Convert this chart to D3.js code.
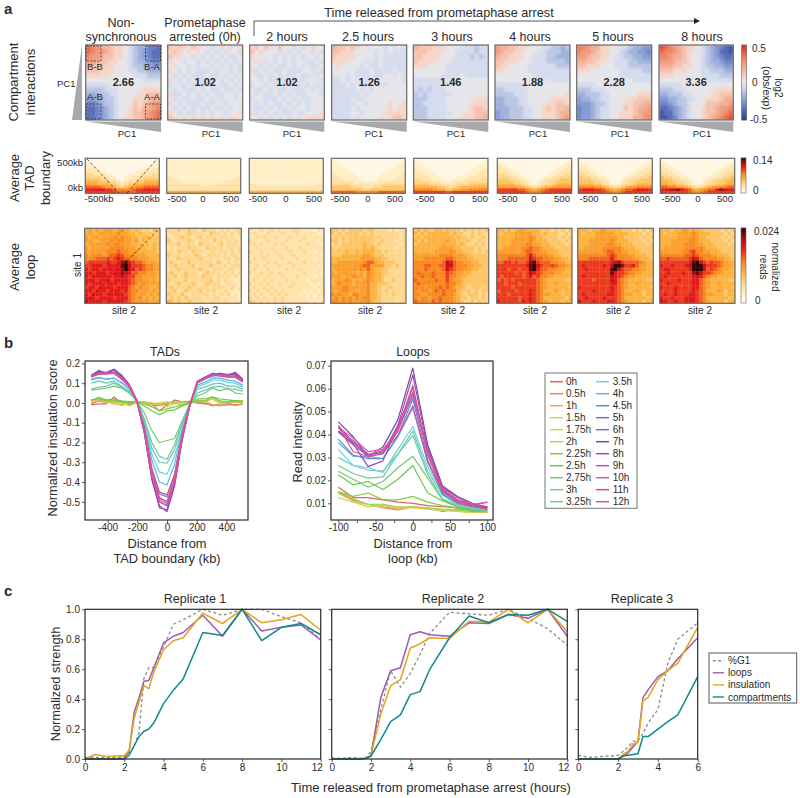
<!DOCTYPE html>
<html><head><meta charset="utf-8">
<script src="https://cdnjs.cloudflare.com/ajax/libs/d3/7.8.5/d3.min.js"></script>
<style>html,body{margin:0;background:#fff}svg{display:block}text{font-family:"Liberation Sans",Arial,sans-serif;fill:#2b2b2b}</style>
</head><body><div id="c"></div>
<script>
// ---------- panel a : headers and scores
const panelTitles=[["Non-","synchronous"],["Prometaphase","arrested (0h)"],["2 hours"],["2.5 hours"],["3 hours"],["4 hours"],["5 hours"],["8 hours"]];
const scores=["2.66","1.02","1.02","1.26","1.46","1.88","2.28","3.36"];

// compartment saddle cells, hex code: 0 = -0.5, 8 = 0, g = +0.5
const comp_ns=["edcbba9987655332","edccba9987654322","dccbaa9987654322","ccbaa99887655433","bbaa998887665544","aaa9998887766555","9999988888777666","8888888888887777","7777788888888888","6666777888889999","5556677888899aaa","4455667888999abb","3345667888a9abcc","2234567889a9bbcd","2234567889aabcde","2234567899aabcde"];
const comp_0h=["a9a98a9887898989","9a98989878787887","a998878787878778","9887887878787878","8988787887878787","9878787778788787","8787877787787878","9878787787878787","7887878777877878","8787778787787787","9778787878778878","8787787787878878","9878777877887888","8787878778778788","9878778787887889","a989898989898998"];
const comp_2h=["9a8a98a887878988","a898887878788787","9888878787878878","8987878787887787","8878787787878778","9787877877788787","8778787877877878","8878778787878887","7887878778787878","8778787787778787","8787787878778887","7887778787877888","8787877878787888","8778787787887888","9787878778778889","8898787878989999"];
const comp_25h=["baa9a98988878787","aa99988887878777","a999988887877777","9998888787877777","8988887877877777","8888877787777877","8887877787788787","7787878787888887","7778787788778888","7777787878888888","7777778788888888","7777877888888888","7777788788889889","7777878888889899","7777887888899999","7777878888989aa9"];
const comp_3h=["baaa999888777677","aaa9998887777677","aa99998887776767","a999988877777777","9998888777777777","8888888777777777","8888887777877777","7777777878888888","7777778788888888","7676777888888888","6767777788888888","6667777888888999","6677777888889999","6667777888889aa9","6667777788899aaa","6667777888999aab"];
const comp_4h=["cbbaa99888776656","cbaa998887766655","baa9998877766555","aa99988877766665","a998888777777666","9988888777777777","8888888877777777","8888888888787777","7777778888888888","6677777888888888","6666777888888889","5566677888889999","5566677888899aa9","55566677889a9aab","4556667788999abb","4556667788999abc"];
const comp_5h=["ddcbb99887765544","dccba99887655443","ccbaa99877665544","bbaa998877766555","aa99988877766666","9998888887777766","8888888887777777","8888888888887777","7777888888888888","6667778888888888","5566677888888999","4556677888899aaa","444566788899aabb","3445677888a9abbc","344567788999abcc","344567788999bbcd"];
const comp_8h=["fedcba9987654321","eddcba9887654221","ddcbba9887654322","cccbaa9887655433","bbbaa99887665544","aaa9998887766655","9998888887777666","8888888888777777","7777788888888888","6667778888889999","5566677888899aaa","4455667788999abb","3345667888aaabbc","2234567889aabccd","1224567889aabcde","1123567889abcdef"];
const compPanels=[comp_ns,comp_0h,comp_2h,comp_25h,comp_3h,comp_4h,comp_5h,comp_8h];

// average TAD boundary cells, hex code 0..f of the 0-0.14 colour range
const tad_ns=["1111111111111111111","2111111111111111112","2211111111111111122","2221111111111111222","3322111111111122233","3332211111111223333","4433322111122233344","4444332211223334444","5555443321233445555","6665554432344556666","7776665543455667777","9999877654567889999","bbbbbaa988889aabbbb","aaaaaaaa99999aaaaaa"];
const tad_0h=["2222222222222222222","2222222222222222222","2222222222222222222","2222222222222222222","2222222222222222222","2222222222222222222","2222222222222222222","3222222222222222223","3322222222222222233","3333222222222223333","3333333332233333333","3333333333333333333","3333333333333333333","6666666666666666666"];
const tad_2h=["2222222222222222222","2222222222222222222","2222222222222222222","2222222222222222222","2222222222222222222","2222222222222222222","2222222222222222222","2222222222222222222","2222222222222222222","2222222222222222222","3322222222222222233","3333333333333333333","3333333333333333333","6666666666666666666"];
const tad_25h=["1111111111111111111","2111111111111111112","2211111111111111122","2221111111111111222","2222111111111112222","2222211111111122222","3222221111111222223","3322222111112222233","3332222211122222333","3333332222223333333","4444433333333444444","5555544433344555555","5555555544555555555","9999998888889999999"];
const tad_3h=["1111111111111111111","2111111111111111112","2211111111111111122","2221111111111111222","3222111111111112223","3322211111111122233","3332221111111222333","3333222111122233333","4433322211222333344","4444333222333344444","5555444333344455555","6666665543456666666","8888876655667788888","aaaaaaaa99aaaaaaaaa"];
const tad_4h=["1111111111111111111","2111111111111111112","2211111111111111122","3221111111111111223","3322111111111112233","3332211111111122333","4433221111111223344","4443322111112233444","5554433211123344555","5555443321233445555","6666554322234456666","7777766543456677777","aaaaa99876789aaaaaa","aaaaaaa98889aaaaaaa"];
const tad_5h=["1111111111111111111","2111111111111111112","2211111111111111122","3221111111111111223","3322111111111112233","4332211111111122334","4433221111111223344","5443322111112233445","5554433211123344555","5555443311133445555","6666554322234456666","8888776543456778888","abbbaa98767899abbba","aaaaaaa98789aaaaaaa"];
const tad_8h=["1111111111111111111","2111111111111111112","2211111111111111122","3221111111111111223","3322111111111112233","4332211111111122334","4433221111111223344","5443322111112233445","6554433211123344556","6655443311133445566","7766554322234455667","9988776543456778899","bbccdba9767899bdcbb","aaaaaaa98789aaaaaaa"];
const tadPanels=[tad_ns,tad_0h,tad_2h,tad_25h,tad_3h,tad_4h,tad_5h,tad_8h];

// average loop cells, hex code 0..f of the 0-0.024 colour range
const loop_ns=["676767776786656545465","676677777877665655545","767767778787766566555","776677787887767565555","677777878877766656565","767777788887776665565","777777888988777666665","878887899a98887776666","888999a9aba9888777666","9aaaaabaabdeba9987776","aabbbabbbbefcaaa98877","babbabbbbbdfcb9a98877","bbabbbabbbdcb99887776","babbbbbabbcbaa8877776","bbbabbbabbbba98877676","babbbabbbabba98787777","abbabbbbabbb987877667","bbabbbabbbab988777676","babbbabbbbba987776767","bbbabbbbabbb987867676","cbbbbabbbbba987777667"];
const loop_0h=["444544544354443434344","344434544443544343434","434454434534443443433","543444543444354434343","444534443544434534443","343444544435444434434","443544354443443443434","544434445434444343443","434544444543434344344","454344544444435434343","445444453444544343444","344544444544344434433","454445444345444343434","445345444454434434343","544445344444534343323","434544454345444334332","454444544444344433433","445345444534443343323","544454344444343434232","454545444434344333332","654544544443444343333"];
const loop_2h=["333433434333443333233","343334333433343333322","334343343334333433333","433334333343334333323","343433343433333343332","334333433343334333333","433433343334333433233","333434334333433333332","343343333433343333233","433334343334333433333","334343334333433333323","343334333343334333233","433433434333333433332","334334333433343333233","343343433343333323333","433434334333433332323","343343433334333333233","434334343433333232323","343433434343332323233","434343343433333323232","543434343433333332323"];
const loop_25h=["554545555455444434344","545455554545444444434","454545555555454444434","554545555555445444344","454555555655454444434","545555555656544444344","555565565666554544444","555666666776555444444","666666667777665544444","667777777899766555444","777777778997777554544","677777778797665544444","767777767687665544444","777677877687665444444","677787676787665445444","678777677786655544444","777887777786654454444","767887767786654544444","878776887786654445444","787878787886654444444","887878777786554444344"];
const loop_3h=["565655665655545454545","656566666656554454544","565666666665655454454","656566666766555544544","566666667666565445454","666666677776655554544","666666777787665554545","777777788887776655555","777888888998777665555","888888889cb9887766555","888998899cc9888776655","888988889ca9887766555","898889888a98776655555","889889888a88766555555","988888988a87765555555","898888888988765555555","888788898987665455545","878878989888655545455","887788889887654555454","878878898887655455454","988879898887654454544"];
const loop_4h=["665656776666555454545","656667777766565554454","666667777876655554545","666677777876665555454","666677778877666555545","667777788988766655555","777777789988776665555","888888889b98887766555","888999999ca9988877665","99aa9a99adea999887766","aaaaaaaabefca99a98877","aaa9aa9aaefb998887766","aaaaa9a9acba988877666","a9aaaaa9ab9a887766666","9a9a9aaaaaa9876666655","aa9aaa9aaaa9876676666","aaaa9aaaaaa9876666665","9aaaa9aaaba9866676566","aaa9aaaaaba9877666566","aaaaaa9aaba9866666656","baaaaa9baba9876666566"];
const loop_5h=["666566776666555454545","656667777766665555454","666667777776655554545","666777777876665555454","666777778877666555545","667777788888766655555","777777789988776665555","888888889a98887766655","888999999b98888776665","aaaaaaaaabcda99998766","abaaaaabacffdaab97766","aabaaaaaaefca99887766","aaaaaaaaaebaa98877666","abaaaaaaacba987766666","aaaa9aaaacb9876666655","aaaaaaaaabb9876676666","baaaaaaaaba9876666665","aaaabaaaaba9866676566","abaaaaaabba9877666566","aabaaaabaaa9866666656","caaabaaabba9876666566"];
const loop_8h=["666566776766555554545","656667777876665555454","666667777876655554545","666777778876665555454","666777788877666555545","677777788888766655555","777777889a88776665555","888888899a98887766655","99a99999acb9888877665","aaaaaaaabefca9a998766","baabaaabcfffcaaa98776","abbaaaaabfffc9a987766","aabaaabaadecaa9877666","abaaaaaaabcb987766666","baaaabaaabb9876666655","aabaaaaaabb9876676666","baaabaaaabb9876666665","aaaabaaaaba9866676566","abaabaaabba9877666566","baabaaabbba9866666656","cbaabaabbba9876666566"];
const loopPanels=[loop_ns,loop_0h,loop_2h,loop_25h,loop_3h,loop_4h,loop_5h,loop_8h];

// ---------- panel b
const timeLabels=["0h","0.5h","1h","1.5h","1.75h","2h","2.25h","2.5h","2.75h","3h","3.25h","3.5h","4h","4.5h","5h","6h","7h","8h","9h","10h","11h","12h"];
const timeColors=["#e2645a","#e8835a","#e5a65c","#dccb5c","#c8d858","#a4d65a","#80cf3c","#6cc848","#72c87a","#6ecb9c","#66c8b8","#6cd3de","#5ab4e8","#5a8fd8","#6a78c8","#7a70c0","#7a4aa8","#9a4ac0","#b854b8","#d45ab0","#dc4a90","#e8507a"];
const tadX=[-510,-459,-408,-357,-306,-255,-204,-153,-102,-51,0,51,102,153,204,255,306,357,408,459,510];
const tadLines=[
[-.01,-.005,-.005,.03,0,-.005,0,.005,-.005,-.04,-.01,.015,.005,.008,0,-.005,-.01,-.012,-.01,-.01,-.008],
[-.005,.01,0,.015,.005,-.01,.005,0,-.01,-.015,-.005,.005,0,.005,0,0,-.015,-.005,0,-.012,-.005],
[0,.015,.005,-.005,-.01,.005,0,.005,0,-.01,0,-.005,.005,0,.005,.01,-.01,-.015,0,.005,0],
[.01,.02,0,.01,-.015,0,.005,0,-.005,0,.005,0,-.01,-.005,.01,.005,.02,-.005,.005,0,.01],
[.005,.02,.015,0,.005,-.015,0,.005,-.005,-.01,-.02,-.005,.005,0,.01,.005,.025,0,.005,.01,.005],
[.01,.03,.015,.005,0,.005,.005,0,-.005,-.005,0,.005,0,0,.01,.01,.03,.005,0,.01,.005],
[.015,.02,.01,.01,.005,0,.01,-.005,-.02,-.04,-.03,-.02,-.01,0,.01,.01,.03,.01,.005,.01,.005],
[.015,.025,.015,.02,.01,.005,.005,-.015,-.04,-.06,-.04,-.035,-.015,0,.02,.02,.03,.02,.015,.01,.01],
[.065,.07,.075,.085,.075,.05,.01,-.05,-.14,-.2,-.19,-.18,-.09,-.005,.035,.05,.075,.06,.075,.05,.045],
[.07,.08,.085,.1,.08,.055,.012,-.08,-.2,-.27,-.285,-.21,-.1,-.005,.05,.065,.08,.085,.07,.07,.06],
[.1,.11,.1,.11,.085,.06,.01,-.09,-.23,-.3,-.305,-.235,-.11,-.005,.07,.08,.095,.1,.085,.085,.07],
[.115,.125,.12,.125,.1,.07,.015,-.1,-.26,-.35,-.36,-.27,-.13,-.01,.08,.095,.115,.115,.105,.1,.08],
[.12,.13,.12,.125,.105,.075,.015,-.11,-.29,-.4,-.415,-.31,-.14,-.01,.09,.105,.125,.125,.115,.11,.09],
[.135,.15,.15,.15,.125,.085,.015,-.13,-.34,-.46,-.475,-.36,-.16,-.01,.1,.12,.135,.14,.13,.13,.105],
[.14,.16,.15,.165,.135,.09,.015,-.13,-.36,-.48,-.5,-.38,-.17,-.01,.105,.13,.14,.15,.14,.145,.115],
[.14,.165,.15,.17,.14,.095,.015,-.14,-.37,-.5,-.52,-.4,-.18,-.015,.11,.13,.145,.15,.145,.15,.115],
[.135,.16,.15,.165,.135,.09,.01,-.15,-.38,-.53,-.54,-.41,-.18,-.015,.105,.13,.145,.15,.14,.15,.12],
[.14,.155,.155,.17,.14,.09,.01,-.15,-.39,-.52,-.55,-.42,-.19,-.015,.11,.13,.15,.145,.14,.155,.12],
[.14,.15,.15,.155,.13,.09,.01,-.14,-.37,-.5,-.52,-.4,-.18,-.01,.105,.125,.145,.145,.14,.14,.115],
[.135,.145,.15,.15,.125,.085,.01,-.14,-.36,-.49,-.51,-.39,-.17,-.01,.105,.125,.14,.14,.135,.135,.11],
[.13,.145,.145,.15,.12,.085,.01,-.125,-.33,-.45,-.465,-.36,-.16,-.005,.105,.125,.14,.135,.13,.13,.11],
[.135,.15,.15,.15,.125,.085,.01,-.135,-.35,-.48,-.5,-.38,-.17,-.01,.105,.125,.14,.14,.135,.135,.11]];
const loopX=[-100,-80,-60,-40,-20,0,20,40,60,80,100];
const loopLines=[
[.017,.0125,.0125,.0115,.0105,.01,.009,.0085,.008,.0075,.007],
[.015,.0115,.0095,.0085,.0075,.0085,.008,.0065,.0075,.007,.0065],
[.015,.012,.0095,.008,.007,.0085,.0075,.007,.007,.0065,.006],
[.0145,.011,.0085,.009,.008,.008,.0075,.007,.0065,.006,.006],
[.0125,.0105,.0085,.0095,.008,.0085,.0075,.007,.0065,.006,.006],
[.0145,.011,.0095,.0095,.0085,.0085,.008,.0075,.007,.0065,.006],
[.015,.013,.0145,.0115,.0115,.013,.0105,.009,.008,.0065,.0065],
[.0225,.018,.0195,.016,.0205,.0265,.0145,.011,.0085,.0065,.007],
[.024,.0205,.017,.0195,.0255,.0305,.021,.0115,.0085,.007,.007],
[.0265,.023,.021,.0215,.0315,.0395,.0225,.012,.009,.0075,.0075],
[.03,.0265,.0245,.024,.0315,.0415,.024,.0135,.0095,.0075,.007],
[.0335,.0265,.0255,.0235,.0335,.0435,.026,.014,.01,.008,.0075],
[.0365,.0305,.0305,.0295,.039,.0515,.028,.0145,.011,.009,.0085],
[.038,.031,.0295,.0295,.0395,.0555,.029,.014,.01,.0085,.008],
[.041,.0355,.0305,.0315,.0415,.057,.032,.015,.011,.009,.0085],
[.043,.0365,.0315,.032,.044,.058,.0335,.0165,.0115,.009,.0085],
[.0455,.039,.0305,.0345,.0465,.069,.0355,.0175,.013,.01,.008],
[.0415,.036,.026,.0285,.044,.066,.034,.017,.0125,.0095,.0085],
[.044,.0365,.031,.033,.0425,.0605,.0315,.016,.0115,.009,.0105],
[.043,.0385,.0325,.0335,.0415,.0585,.0315,.0155,.011,.0095,.0105],
[.0415,.0375,.03,.0325,.0395,.0525,.028,.0155,.0105,.0085,.0075],
[.0435,.0325,.0305,.032,.0425,.0615,.031,.016,.0115,.0095,.0085]];

// ---------- panel c
const metricNames=["%G1","loops","insulation","compartments"];
const metricColors=["#8c8c8c","#a05ab5","#e5a31e","#0f8a8a"];
const rep1T=[0,.5,1,1.5,1.75,2,2.25,2.5,2.75,3,3.25,3.5,4,4.5,5,6,7,8,9,10,11,12];
const rep1G=[.01,.01,.01,.01,.01,.02,.04,.08,.18,.54,.61,.61,.75,.9,.93,1,.96,1,1,.95,.91,.8];
const rep1L=[0,0,0,0,0,.005,.05,.31,.41,.52,.525,.61,.775,.82,.845,.96,.82,1,.855,.88,.895,.795];
const rep1I=[0,.03,.02,.018,.022,.02,.06,.27,.38,.49,.47,.58,.73,.79,.81,.975,.905,1,.91,.93,.965,.86];
const rep1C=[0,0,0,0,0,0,.025,.09,.15,.185,.2,.24,.37,.46,.535,.845,.825,1,.79,.88,.905,.83];
const rep2T=[0,.5,1,1.5,1.75,2,2.5,3,3.5,4,4.5,5,6,7,8,9,10,11,12];
const rep2G=[.005,.005,.01,.005,.01,.05,.33,.59,.48,.57,.7,.84,.98,.97,.96,1,.94,.87,.76];
const rep2L=[0,0,0,0,.005,.02,.41,.59,.61,.83,.85,.83,.82,.91,.905,.965,.94,1,.82];
const rep2I=[0,0,0,0,.005,.025,.3,.49,.53,.74,.77,.81,.805,.92,.915,1,.91,1,.85];
const rep2C=[0,0,0,0,.005,.02,.13,.25,.295,.43,.45,.6,.81,.955,.91,.965,.96,1,.92];
const rep3T=[0,.5,1,1.5,1.75,2,2.25,2.5,2.75,3,3.25,3.5,4,4.5,5,6];
const rep3G=[.025,.01,.015,.02,.02,.025,.05,.08,.12,.12,.17,.24,.33,.64,.8,.91];
const rep3L=[0,0,0,0,0,0,.02,.04,.08,.12,.41,.46,.55,.59,.67,.81];
const rep3I=[0,0,0,0,0,0,.03,.05,.1,.11,.39,.41,.53,.59,.64,.88];
const rep3C=[0,0,0,0,0,0,.02,.025,.03,.035,.15,.15,.2,.25,.295,.55];

// ---------- layout
const W=800,H=798;
const svg=d3.select("#c").append("svg").attr("width",W).attr("height",H);
const defs=svg.append("defs");
defs.append("filter").attr("id","soft").attr("x","-5%").attr("y","-5%").attr("width","110%").attr("height","110%")
  .append("feGaussianBlur").attr("stdDeviation",.8);
const hex=c=>parseInt(c,17);
const compColor=d3.scaleLinear().domain([-.5,-.3,-.0625,0,.0625,.3,.5]).range(["#2a3c98","#6f88cc","#d5dcee","#e6e6ea","#f7d6c8","#ef8a68","#d6301f"]);
const heatColor=d3.scaleLinear().domain([0,2,4,6,8,10,11,13,15]).range(["#ffffff","#ffefc6","#fed78f","#fdb33f","#f88a1f","#ec3a1e","#e31a1c","#a00d0d","#2c0000"]);
const hyphen=f=>d=>f(d).replace("\u2212","-");
let clipN=0;
function text(x,y,s,o={}){
  const t=svg.append("text").attr("x",x).attr("y",y).attr("font-size",o.size||10).attr("text-anchor",o.anchor||"middle").text(s);
  if(o.bold)t.attr("font-weight","bold");
  return t;
}
function heat(rows,x0,x1,y0,y1,color,soft,bg){
  const n=d3.max(rows,r=>r.length);
  const sx=d3.scaleBand().domain(d3.range(n)).range([x0,x1]);
  const sy=d3.scaleBand().domain(d3.range(rows.length)).range([y0,y1]);
  const id="clip"+(clipN++);
  defs.append("clipPath").attr("id",id).append("rect").attr("x",x0).attr("y",y0).attr("width",x1-x0).attr("height",y1-y0);
  const outer=svg.append("g").attr("clip-path",`url(#${id})`);
  outer.append("rect").attr("x",x0).attr("y",y0).attr("width",x1-x0).attr("height",y1-y0).attr("fill",bg||"#fff");
  const g=outer.append("g");
  if(soft)g.attr("filter","url(#soft)");
  const cells=[];rows.forEach((r,i)=>r.split("").forEach((c,j)=>cells.push({i,j,v:hex(c)})));
  g.selectAll("rect").data(cells).join("rect")
    .attr("x",d=>sx(d.j)).attr("y",d=>sy(d.i)).attr("width",sx.bandwidth()+.3).attr("height",sy.bandwidth()+.3)
    .attr("fill",d=>color(d.v));
  svg.append("rect").attr("x",x0).attr("y",y0).attr("width",x1-x0).attr("height",y1-y0)
    .attr("fill","none").attr("stroke","#666").attr("stroke-width",1.2);
}
const compX=[[85.7,161],[167.7,242.7],[249.7,324.3],[331.7,406.7],[413.3,488.3],[495,570],[576.7,651.7],[659,733.3]];
const tadPX=[[85.3,159.3],[166.7,240.7],[249.3,323.3],[331.3,405.3],[413.7,488],[497.3,571.7],[578.3,652.3],[660.3,734.7]];
const loopPX=[[84.7,160],[166.3,241.3],[248.7,324],[330.7,406],[413.3,488.7],[496.7,572],[577.7,653.3],[659.7,735]];
const titleX=[121,205,287,368,452,530,613,702];
const pc1X=[127,211,292,374,456,538,620,702];
const siteX=[124,206,289,370,453,535,618,700];
const tadTickX=[[null],[177,203,231],[258,286,314],[340,368,395],[425,452,480],[508,534,562],[589,615,642],[671,698,725]];
const grey="#a7a9ac";

// section letters
text(4,13.7,"a",{size:15,bold:true,anchor:"start"});
text(4,348,"b",{size:15,bold:true,anchor:"start"});
text(4,596,"c",{size:15,bold:true,anchor:"start"});

// headers
panelTitles.forEach((t,i)=>{
  if(t.length===2){text(titleX[i],26.5,t[0],{size:12.5});text(titleX[i],41,t[1],{size:12.5});}
  else text(titleX[i],41,t[0],{size:12.5});
});
text(439,17,"Time released from prometaphase arrest",{size:12.7});
svg.append("path").attr("d","M254 36V21H695").attr("fill","none").attr("stroke","#555").attr("stroke-width",1);
svg.append("path").attr("d","M694 18L700 21L694 24Z").attr("fill","#222");

// row labels
[["Compartment",14,82],["interactions",31,82],["Average",15,178],["TAD",30,178],["boundary",46,178],["Average",15,267],["loop",31,267]]
 .forEach(d=>{svg.append("text").attr("transform",`translate(${d[1]+4},${d[2]}) rotate(-90)`).attr("text-anchor","middle").attr("font-size",13).text(d[0]);});

// compartment row
compPanels.forEach((p,i)=>{
  const [a,b]=compX[i];
  heat(p,a,b,45,120,v=>compColor((v-8)/16),true,"#e6e6ea");
  svg.append("text").attr("x",(a+b)/2).attr("y",85.5).attr("text-anchor","middle").attr("font-size",11).attr("font-weight","bold").text(scores[i]);
  svg.append("path").attr("d",`M${a} 121.5L${b} 121.5L${b} 132Z`).attr("fill",grey);
  text(pc1X[i],137,"PC1",{size:9.5});
});
svg.append("path").attr("d","M82 45L72 120L82 120Z").attr("fill",grey);
text(57,87,"PC1",{size:9.5,anchor:"start"});
[["B-B",95,70,86,46],["B-A",152,70,145.5,46],["A-B",95,100,86,104],["A-A",152,100,145.5,104]].forEach(d=>{
  text(d[1],d[2],d[0],{size:9.5});
  svg.append("rect").attr("x",d[3]).attr("y",d[4]).attr("width",15).attr("height",15).attr("fill","none").attr("stroke","#222").attr("stroke-width",.7).attr("stroke-dasharray","2 1.5");
});

// TAD row
tadPanels.forEach((p,i)=>{
  const [a,b]=tadPX[i];
  heat(p,a,b,158.3,193.3,heatColor,false);
  if(i>0)["-500","0","500"].forEach((s,k)=>text(tadTickX[i][k],202,s,{size:9.5}));
});
text(99,202,"-500kb",{size:9.5});text(144,202,"+500kb",{size:9.5});
text(83,166,"500kb",{size:9.5,anchor:"end"});text(83,191,"0kb",{size:9.5,anchor:"end"});
svg.append("path").attr("d","M87 159L119 193M127 193L157 159").attr("stroke","#222").attr("stroke-width",.7).attr("stroke-dasharray","3 2").attr("fill","none");

// loop row
loopPanels.forEach((p,i)=>{
  const [a,b]=loopPX[i];
  heat(p.map(r=>r.slice(0,21)),a,b,228.3,303.3,heatColor,false);
  text(siteX[i],313.5,"site 2",{size:10});
});
svg.append("path").attr("d","M85 303L160 228").attr("stroke","#222").attr("stroke-width",.7).attr("stroke-dasharray","3 2");
svg.append("text").attr("transform","translate(81,265) rotate(-90)").attr("text-anchor","middle").attr("font-size",10).text("site 1");

// colour bars
function colorbar(x,y0,y1,fn){
  const s=d3.scaleLinear().domain([0,1]).range([y1,y0]);
  const g=svg.append("g");
  g.selectAll("rect").data(d3.range(0,1,1/(y1-y0))).join("rect")
    .attr("x",x).attr("width",5).attr("y",d=>s(d)-1.2).attr("height",1.4).attr("fill",d=>fn(d));
  svg.append("rect").attr("x",x).attr("y",y0).attr("width",5).attr("height",y1-y0).attr("fill","none").attr("stroke","#666").attr("stroke-width",.6);
}
colorbar(741.7,45,120,d=>compColor(d-.5));
colorbar(741,158,193,d=>heatColor(d*15));
colorbar(741,228,303,d=>heatColor(d*15));
text(752,52,"0.5",{size:10,anchor:"start"});text(752,86,"0",{size:10,anchor:"start"});text(750,123,"-0.5",{size:10,anchor:"start"});
text(753,164,"0.14",{size:10,anchor:"start"});text(753,194,"0",{size:10,anchor:"start"});
text(754,235,"0.024",{size:10,anchor:"start"});text(755,304,"0",{size:10,anchor:"start"});
[["log2",775,88,10],["(obs/exp)",763,88,10.5],["normalized",772,267,10],["reads",760,267,10]].forEach(d=>{
  svg.append("text").attr("transform",`translate(${d[1]},${d[2]}) rotate(90)`).attr("text-anchor","middle").attr("font-size",d[3]).text(d[0]);
});

// framed line plots
function frame(x0,x1,y0,y1){
  svg.append("rect").attr("x",x0).attr("y",y0).attr("width",x1-x0).attr("height",y1-y0).attr("fill","none").attr("stroke","#2a2a2a").attr("stroke-width",1.2);
}
function styleAxis(g,size){
  g.select(".domain").remove();
  g.selectAll("line").attr("stroke","#333").attr("stroke-width",.8);
  g.selectAll("text").attr("font-size",size||10).attr("font-family",'"Liberation Sans",Arial,sans-serif').attr("fill","#2b2b2b");
}
function curveLine(sx,sy,xs){return d3.line().x((d,i)=>sx(xs[i])).y(d=>sy(d));}

// TADs
{
  const sx=d3.scaleLinear().domain([-552,545]).range([85,248]);
  const sy=d3.scaleLinear().domain([-.592,.212]).range([520,361]);
  const l=curveLine(sx,sy,tadX);
  svg.append("g").selectAll("path").data(tadLines).join("path").attr("d",l).attr("fill","none").attr("stroke-width",1.2).attr("stroke",(d,i)=>timeColors[i]).attr("stroke-linejoin","round");
  frame(85,248,361,520);
  svg.append("g").attr("transform","translate(0,520)").call(d3.axisBottom(sx).tickValues([-400,-200,0,200,400]).tickFormat(hyphen(d3.format("d"))).tickSize(3).tickPadding(1)).call(styleAxis);
  svg.append("g").attr("transform","translate(85,0)").call(d3.axisLeft(sy).tickValues([.2,.1,0,-.1,-.2,-.3,-.4,-.5]).tickFormat(hyphen(d3.format(".1f"))).tickSize(3).tickPadding(2)).call(styleAxis);
  text(165,356,"TADs",{size:12.3});
  svg.append("text").attr("transform","translate(57,438) rotate(-90)").attr("text-anchor","middle").attr("font-size",12.8).text("Normalized insulation score");
  text(167,548,"Distance from",{size:12.8});text(167,562.5,"TAD boundary (kb)",{size:12.8});
}
// Loops
{
  const sx=d3.scaleLinear().domain([-100,100]).range([338.3,487.3]);
  const sy=d3.scaleLinear().domain([.01,.07]).range([503.3,365.7]);
  const l=curveLine(sx,sy,loopX);
  svg.append("g").selectAll("path").data(loopLines).join("path").attr("d",l).attr("fill","none").attr("stroke-width",1.2).attr("stroke",(d,i)=>timeColors[i]).attr("stroke-linejoin","round");
  frame(331,493,361,520);
  svg.append("g").attr("transform","translate(0,520)").call(d3.axisBottom(sx).tickValues([-100,-75,-50,-25,0,25,50,75,100]).tickFormat(d=>d%50===0?d:"").tickSize(3).tickPadding(1)).call(styleAxis);
  svg.append("g").attr("transform","translate(331,0)").call(d3.axisLeft(sy).tickValues([.01,.02,.03,.04,.05,.06,.07]).tickFormat(d3.format(".2f")).tickSize(3).tickPadding(2)).call(styleAxis);
  text(413,356,"Loops",{size:12.3});
  svg.append("text").attr("transform","translate(302,442) rotate(-90)").attr("text-anchor","middle").attr("font-size",12.8).text("Read intensity");
  text(413,548,"Distance from",{size:12.8});text(413,562.5,"loop (kb)",{size:12.8});
}
// time legend
svg.append("rect").attr("x",545).attr("y",373).attr("width",92).attr("height",135.3).attr("fill","none").attr("stroke","#777").attr("stroke-width",1);
timeLabels.forEach((t,i)=>{
  const col=i<11?0:1,row=i<11?i:i-11;
  const y=381.7+row*12,x=col?596:550;
  svg.append("line").attr("x1",x).attr("x2",x+13).attr("y1",y).attr("y2",y).attr("stroke",timeColors[i]).attr("stroke-width",1.5);
  text(x+(col?16.7:16),y+3.5,t,{size:10,anchor:"start"});
});

// replicates
function replicate(name,x0,x1,xmax,T,series,labelY,tcx,pullLast){
  const sx=d3.scaleLinear().domain([0,xmax]).range([x0,x1]);
  const sy=d3.scaleLinear().domain([0,1]).range([759,609.3]);
  const l=curveLine(sx,sy,T);
  svg.append("g").selectAll("path").data(series).join("path").attr("d",l).attr("fill","none")
    .attr("stroke",(d,i)=>metricColors[i]).attr("stroke-width",(d,i)=>i===0?1.3:1.5).attr("stroke-linejoin","round")
    .attr("stroke-dasharray",(d,i)=>i===0?"3 2.5":null);
  frame(x0,x1,609.3,759);
  const xg=svg.append("g").attr("transform","translate(0,759)").call(d3.axisBottom(sx).tickValues(d3.range(0,xmax+1,2)).tickFormat(d3.format("d")).tickSize(3).tickPadding(2)).call(styleAxis);
  if(pullLast)xg.selectAll("text").filter(d=>d===xmax).attr("dx",-4);
  const ya=d3.axisLeft(sy).tickValues([0,.2,.4,.6,.8,1]).tickSize(3).tickPadding(2).tickFormat(labelY?d3.format(".1f"):"");
  svg.append("g").attr("transform",`translate(${x0},0)`).call(ya).call(styleAxis);
  text(tcx,603,name,{size:12.5});
}
replicate("Replicate 1",85,320.7,12,rep1T,[rep1G,rep1L,rep1I,rep1C],true,195,true);
replicate("Replicate 2",331.7,567.3,12,rep2T,[rep2G,rep2L,rep2I,rep2C],false,453,true);
replicate("Replicate 3",578.3,697.7,6,rep3T,[rep3G,rep3L,rep3I,rep3C],false,642,false);
svg.append("text").attr("transform","translate(60,684) rotate(-90)").attr("text-anchor","middle").attr("font-size",12.8).text("Normalized strength");
text(431,792,"Time released from prometaphase arrest (hours)",{size:13});
svg.append("rect").attr("x",709).attr("y",653).attr("width",87.7).attr("height",50).attr("fill","#fff").attr("stroke","#555").attr("stroke-width",1);
metricNames.forEach((m,i)=>{
  const y=660.7+i*12.1;
  const ln=svg.append("line").attr("x1",712.7).attr("x2",724).attr("y1",y).attr("y2",y).attr("stroke",metricColors[i]).attr("stroke-width",1.4);
  if(i===0)ln.attr("stroke-dasharray","3 2.5");
  text(728,y+3.5,m,{size:10,anchor:"start"});
});
</script></body></html>
